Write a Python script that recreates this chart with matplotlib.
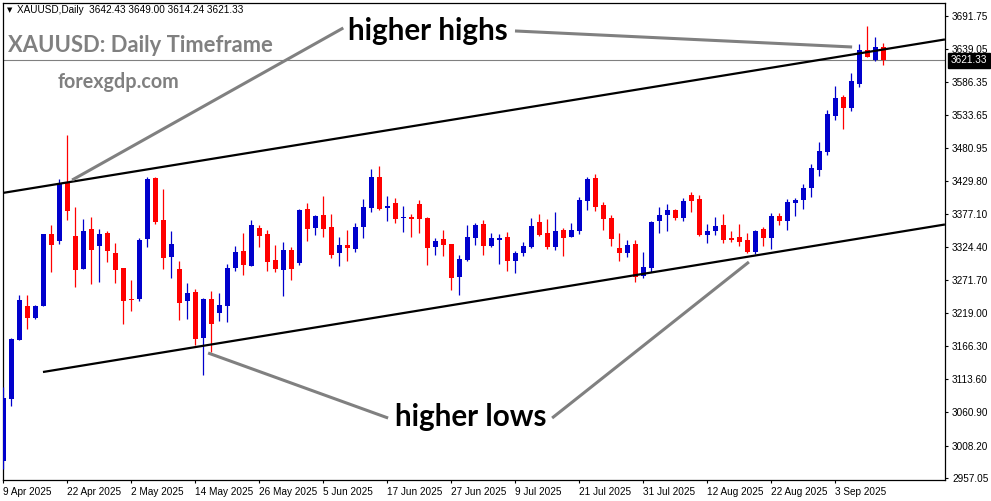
import matplotlib
matplotlib.use('Agg')
import matplotlib.pyplot as plt

W, H, DPI = 991, 501, 100

opens = [2984.1, 3082.3, 3176.2, 3230.3, 3211.6, 3230.3, 3344.8, 3333.7, 3427.1, 3341.7,
         3289.6, 3352.3, 3326.2, 3346.4, 3314.6, 3290.7, 3241.4, 3241.4, 3336.9, 3433.9,
         3367.1, 3308.7, 3289.1, 3238.7, 3252.5, 3179.8, 3241.4, 3219.6, 3230.7, 3291.2,
         3317.8, 3294.4, 3354.4, 3344.8, 3303.5, 3288.0, 3319.4, 3299.2, 3384.6, 3354.9,
         3375.1, 3356.0, 3315.1, 3327.3, 3321.4, 3356.5, 3386.7, 3435.5, 3386.7, 3394.2,
         3370.6, 3371.9, 3392.6, 3370.3, 3324.6, 3336.9, 3328.9, 3276.9, 3303.9, 3338.9,
         3360.7, 3326.2, 3335.8, 3340.1, 3302.3, 3315.1, 3324.1, 3363.9, 3346.4, 3324.1,
         3351.2, 3340.5, 3350.1, 3397.8, 3433.9, 3391.0, 3370.3, 3322.6, 3315.1, 3328.9,
         3278.5, 3291.2, 3366.0, 3375.6, 3383.0, 3370.8, 3406.9, 3400.5, 3343.7, 3349.6,
         3359.2, 3338.5, 3340.1, 3335.3, 3316.2, 3352.8, 3338.5, 3373.5, 3365.5, 3394.7,
         3399.0, 3418.5, 3446.7, 3475.3, 3533.1, 3562.8, 3545.8, 3584.0, 3637.6, 3621.8,
         3642.43]
highs = [3101.8, 3179.0, 3247.8, 3247.8, 3231.9, 3344.8, 3359.2, 3431.9, 3502.4, 3387.8,
         3368.7, 3371.9, 3353.3, 3349.6, 3330.5, 3291.2, 3271.6, 3338.0, 3436.0, 3436.0,
         3416.4, 3349.6, 3301.9, 3266.9, 3257.3, 3243.0, 3254.1, 3250.9, 3297.1, 3325.7,
         3346.4, 3367.1, 3359.2, 3351.2, 3327.3, 3332.1, 3324.1, 3384.6, 3394.2, 3375.1,
         3405.3, 3376.7, 3340.1, 3351.2, 3362.3, 3400.5, 3448.3, 3453.0, 3405.3, 3402.1,
         3389.4, 3376.7, 3398.9, 3371.9, 3338.5, 3351.2, 3328.9, 3311.4, 3359.2, 3362.3,
         3367.1, 3346.4, 3344.8, 3348.0, 3318.3, 3332.1, 3370.3, 3376.7, 3368.7, 3379.8,
         3354.4, 3362.3, 3403.7, 3435.5, 3440.3, 3395.8, 3375.1, 3346.4, 3335.3, 3335.3,
         3316.2, 3365.5, 3387.8, 3392.6, 3384.6, 3402.1, 3411.7, 3406.9, 3360.7, 3371.9,
         3376.7, 3349.6, 3360.7, 3346.4, 3351.2, 3356.0, 3378.3, 3378.3, 3400.5, 3402.1,
         3424.4, 3456.2, 3491.2, 3542.2, 3580.4, 3566.0, 3601.0, 3647.2, 3675.8, 3658.3,
         3649.00]
lows = [2970.9, 3071.6, 3176.2, 3193.7, 3209.6, 3230.3, 3284.8, 3329.4, 3367.1, 3261.0,
        3289.6, 3265.7, 3268.5, 3300.8, 3267.3, 3202.1, 3222.8, 3238.7, 3324.6, 3360.7,
        3289.6, 3275.3, 3208.5, 3209.1, 3168.2, 3120.9, 3156.6, 3206.9, 3205.3, 3286.4,
        3280.1, 3294.4, 3324.6, 3286.4, 3284.8, 3246.7, 3272.1, 3296.0, 3334.2, 3343.7,
        3340.5, 3306.6, 3294.4, 3302.3, 3316.7, 3338.9, 3380.3, 3383.0, 3366.0, 3362.8,
        3348.5, 3340.1, 3346.9, 3295.5, 3311.4, 3309.8, 3256.2, 3248.2, 3302.3, 3327.8,
        3311.9, 3324.6, 3297.6, 3286.4, 3283.2, 3310.3, 3322.6, 3341.7, 3321.4, 3319.4,
        3310.3, 3340.1, 3345.3, 3383.0, 3381.9, 3351.2, 3326.2, 3302.3, 3308.7, 3268.9,
        3274.8, 3284.8, 3345.9, 3350.1, 3367.1, 3366.0, 3379.8, 3341.7, 3331.0, 3343.2,
        3330.5, 3332.1, 3325.7, 3314.6, 3313.0, 3325.7, 3321.0, 3359.2, 3351.2, 3373.5,
        3384.6, 3403.7, 3437.6, 3471.0, 3526.2, 3512.4, 3541.0, 3579.2, 3626.5, 3620.2,
        3614.24]
closes = [3083.4, 3177.8, 3239.8, 3211.6, 3230.3, 3344.8, 3327.8, 3425.5, 3381.9, 3288.0,
          3349.6, 3319.9, 3344.8, 3318.3, 3288.0, 3238.7, 3240.3, 3335.3, 3432.4, 3363.9,
          3306.6, 3328.9, 3235.5, 3250.9, 3178.2, 3241.4, 3202.1, 3231.9, 3290.7, 3316.2,
          3296.0, 3359.2, 3342.1, 3300.8, 3289.6, 3319.4, 3289.6, 3383.0, 3353.3, 3373.5,
          3353.3, 3311.4, 3327.3, 3323.0, 3356.0, 3387.8, 3435.5, 3384.6, 3389.4, 3369.2,
          3371.9, 3369.2, 3369.2, 3322.6, 3333.7, 3327.8, 3275.3, 3305.1, 3340.1, 3359.2,
          3326.2, 3338.5, 3338.5, 3302.3, 3314.6, 3325.7, 3357.6, 3343.2, 3324.1, 3349.6,
          3338.5, 3351.2, 3399.0, 3432.4, 3388.3, 3369.2, 3337.4, 3315.1, 3327.3, 3276.9,
          3291.8, 3363.9, 3375.1, 3383.0, 3370.8, 3397.3, 3397.8, 3343.2, 3349.6, 3357.6,
          3335.3, 3334.8, 3332.1, 3316.2, 3349.6, 3338.9, 3373.5, 3365.5, 3395.8, 3399.0,
          3418.0, 3449.9, 3477.0, 3535.8, 3561.3, 3545.8, 3588.3, 3637.6, 3627.0, 3642.4,
          3621.33]

date_labels = ['9 Apr 2025', '22 Apr 2025', '2 May 2025', '14 May 2025', '26 May 2025',
               '5 Jun 2025', '17 Jun 2025', '27 Jun 2025', '9 Jul 2025', '21 Jul 2025',
               '31 Jul 2025', '12 Aug 2025', '22 Aug 2025', '3 Sep 2025']
date_tick_bars = [0, 8, 16, 24, 32, 40, 48, 56, 64, 72, 80, 88, 96, 104]
price_ticks = [3691.75, 3639.05, 3586.35, 3533.65, 3480.95, 3429.80, 3377.10, 3324.40,
               3271.70, 3219.00, 3166.30, 3113.60, 3060.90, 3008.20, 2957.05]
price_tick_labels = ['%.2f' % p for p in price_ticks]
last_price = 3621.33
header_text = 'XAUUSD,Daily  3642.43 3649.00 3614.24 3621.33'

# trend lines (bar index, price)
upper_trend_x = [-0.1, 117.7]
upper_trend_y = [3410.1, 3654.4]
lower_trend_x = [4.96, 117.7]
lower_trend_y = [3125.25, 3359.97]

# annotation pointer lines (bar index, price)
pointers = [
    ([8.6, 42.5], [3430.7, 3672.7]),
    ([63.96, 106.1], [3667.9, 3642.4]),
    ([25.6, 48.1], [3155.5, 3052.0]),
    ([68.6, 93.2], [3052.0, 3300.3]),
]

BLUE = '#0000CC'
RED = '#FF0000'
GRAY = '#808080'
TICKFONT = 'Liberation Sans'
TICKSIZE = 7.2

fig = plt.figure(figsize=(W / DPI, H / DPI), dpi=DPI)
fig.patch.set_facecolor('white')

def fx(px):
    return px / W

def fy(py):
    return 1 - py / H

ax_l, ax_r, ax_t, ax_b = 2.7, 945.0, 3.0, 480.0
ax = fig.add_axes([fx(ax_l), fy(ax_b), fx(ax_r - ax_l), (ax_b - ax_t) / H])
ax.set_facecolor('white')
ax.set_xlim(-0.075, 117.71)
ax.set_ylim(2953.4, 3712.4)

px_price = 1.5913
for i, (o, h, l, c) in enumerate(zip(opens, highs, lows, closes)):
    col = BLUE if c >= o else RED
    ax.vlines(i, l, h, color=col, linewidth=0.9, zorder=3)
    bottom = min(o, c)
    height = max(abs(c - o), px_price)
    ax.bar(i, height, bottom=bottom, width=0.6, color=col, linewidth=0, zorder=4)

# bid line
ax.axhline(last_price, color=GRAY, linewidth=0.8, zorder=2)

# trend lines
ax.plot(upper_trend_x, upper_trend_y, color='black', linewidth=1.6, zorder=5,
        solid_capstyle='butt')
ax.plot(lower_trend_x, lower_trend_y, color='black', linewidth=1.6, zorder=5,
        solid_capstyle='butt')

for xs, ys in pointers:
    ax.plot(xs, ys, color=GRAY, linewidth=2.2, zorder=6, solid_capstyle='butt')

# axes styling
for s in ax.spines.values():
    s.set_color('black')
    s.set_linewidth(0.9)
ax.yaxis.tick_right()
ax.set_yticks(price_ticks)
ax.set_yticklabels(price_tick_labels, family=TICKFONT)
ax.set_xticks(date_tick_bars)
ax.set_xticklabels(date_labels, ha='left', family=TICKFONT)
ax.tick_params(axis='y', direction='out', length=2.5, width=0.8, pad=2.5,
               labelsize=TICKSIZE, colors='black')
ax.tick_params(axis='x', direction='out', length=2.5, width=0.8, pad=2.5,
               labelsize=TICKSIZE, colors='black')
for lab in ax.get_xticklabels():
    lab.set_horizontalalignment('left')

# last price label
ax.annotate('%.2f' % last_price, xy=(1.0, last_price), xycoords=('axes fraction', 'data'),
            xytext=(4.3, 0), textcoords='offset points', ha='left', va='center',
            fontsize=TICKSIZE, family=TICKFONT, color='white',
            bbox=dict(boxstyle='square,pad=0.25', fc='black', ec='black'), zorder=10,
            annotation_clip=False)

# header
fig.text(fx(7), fy(10), '\u25bc', fontsize=5.0, color='black', ha='left', va='center')
fig.text(fx(17), fy(10), header_text, fontsize=TICKSIZE, family=TICKFONT,
         color='black', ha='left', va='center')

fig.text(fx(8), fy(45), 'XAUUSD: Daily Timeframe', fontsize=15.8, fontweight='bold',
         color=GRAY, family='Lato', ha='left', va='center')
fig.text(fx(58), fy(82), 'forexgdp.com', fontsize=14.2, fontweight='bold',
         color=GRAY, family='Lato', ha='left', va='center')
fig.text(fx(348), fy(31), 'higher highs', fontsize=21.3, fontweight='bold',
         color='black', family='Lato', ha='left', va='center')
fig.text(fx(395), fy(417), 'higher lows', fontsize=21.3, fontweight='bold',
         color='black', family='Lato', ha='left', va='center')

fig.savefig('out.png', dpi=DPI, facecolor='white')
